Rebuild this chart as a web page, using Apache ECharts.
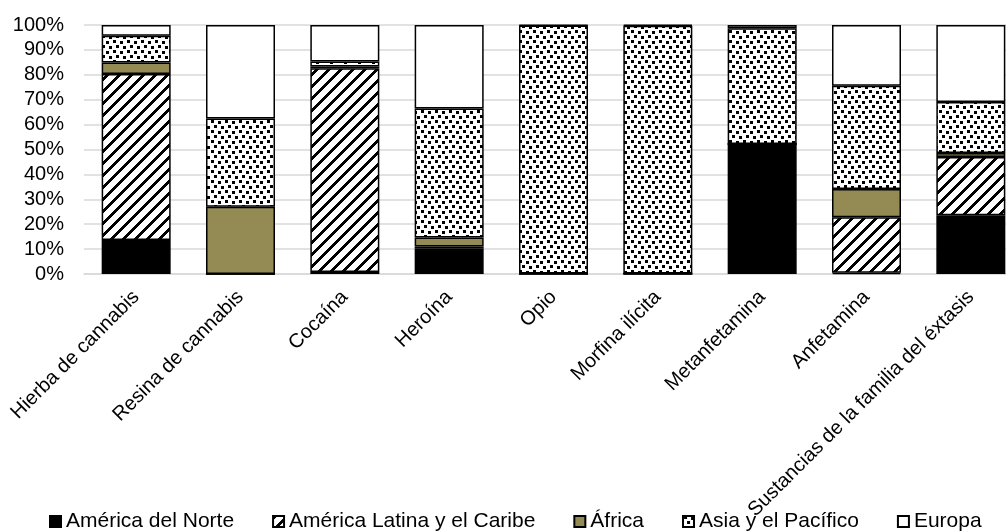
<!DOCTYPE html>
<html>
<head>
<meta charset="utf-8">
<script src="https://cdn.jsdelivr.net/npm/echarts@6/dist/echarts.min.js"></script>
<style>
html,body{margin:0;padding:0;background:#fff;}
#chart{width:1006px;height:532px;}
</style>
</head>
<body>
<div id="chart"></div>
<script>
const categories = ['Hierba de cannabis','Resina de cannabis','Cocaína','Heroína','Opio','Morfina ilícita','Metanfetamina','Anfetamina','Sustancias de la familia del éxtasis'];
const seriesNames = ['América del Norte','América Latina y el Caribe','África','Asia y el Pacífico','Europa'];
const northAmerica = [13.7, 0, 0.8, 10.3, 0, 0, 52.2, 0.5, 23.6];
const latinAmerica = [66.6, 0, 81.8, 0.7, 0.2, 0.2, 0, 22.3, 23.4];
const africa = [4.6, 27, 0.7, 3.7, 0, 0, 0, 11.3, 1.6];
const asiaPacific = [10.8, 35.5, 2.0, 51.8, 99.6, 99.5, 46.5, 41.5, 20.5];
const europe = [4.3, 37.5, 14.7, 33.5, 0.2, 0.3, 1.3, 24.4, 30.9];
const yTicks = [0,10,20,30,40,50,60,70,80,90,100];

function hatchPattern(){
  const S = 12, w = 4;
  const c = document.createElement('canvas'); c.width = S; c.height = S;
  const ctx = c.getContext('2d');
  ctx.fillStyle = '#fff'; ctx.fillRect(0,0,S,S);
  ctx.fillStyle = '#000';
  for (let y=0;y<S;y++) for (let x=0;x<S;x++){
    if (((x + y) % S) < w) ctx.fillRect(x,y,1,1);
  }
  return c;
}
function confettiPattern(){
  const W = 14, H = 10;
  const c = document.createElement('canvas'); c.width = W; c.height = H;
  const ctx = c.getContext('2d');
  ctx.fillStyle = '#fff'; ctx.fillRect(0,0,W,H);
  ctx.fillStyle = '#000';
  [[1,0],[8,1],[4,5],[11,6]].forEach(p => ctx.fillRect(p[0],p[1],3,3));
  return c;
}
const fills = [
  '#000000',
  {image: hatchPattern(), repeat: 'repeat'},
  '#948A54',
  {image: confettiPattern(), repeat: 'repeat'},
  '#ffffff'
];
const dataSets = [northAmerica, latinAmerica, africa, asiaPacific, europe];

const font = "'Liberation Sans', Arial, sans-serif";
const chart = echarts.init(document.getElementById('chart'), null, {renderer:'canvas'});
chart.setOption({
  animation: false,
  backgroundColor: '#fff',
  grid: {left: 84, width: 939, top: 25, height: 249, containLabel: false, outerBoundsMode: 'none'},
  legend: {
    left: 49, top: 511, padding: 0, itemWidth: 11, itemHeight: 11, itemGap: 38, icon: 'rect',
    textStyle: {fontFamily: font, fontSize: 21, color: '#000'},
    data: seriesNames
  },
  xAxis: {
    type: 'category', data: categories,
    axisLine: {lineStyle: {color: '#d9d9d9', width: 1.5}},
    axisTick: {show: false},
    axisLabel: {interval: 0, rotate: 45, margin: 20, fontFamily: font, fontSize: 20, color: '#000'}
  },
  yAxis: {
    type: 'value', min: 0, max: 100, interval: 10,
    axisLine: {show: false}, axisTick: {show: false},
    splitLine: {lineStyle: {color: '#d9d9d9', width: 1.5}},
    axisLabel: {margin: 20, fontFamily: font, fontSize: 20, color: '#000', formatter: v => yTicks.includes(v) ? v + '%' : ''}
  },
  series: seriesNames.map((name, i) => ({
    name, type: 'bar', stack: 'total', barWidth: 69,
    data: dataSets[i],
    itemStyle: {color: fills[i], borderColor: '#000', borderWidth: 1.5},
    emphasis: {disabled: true}
  }))
});
</script>
</body>
</html>
